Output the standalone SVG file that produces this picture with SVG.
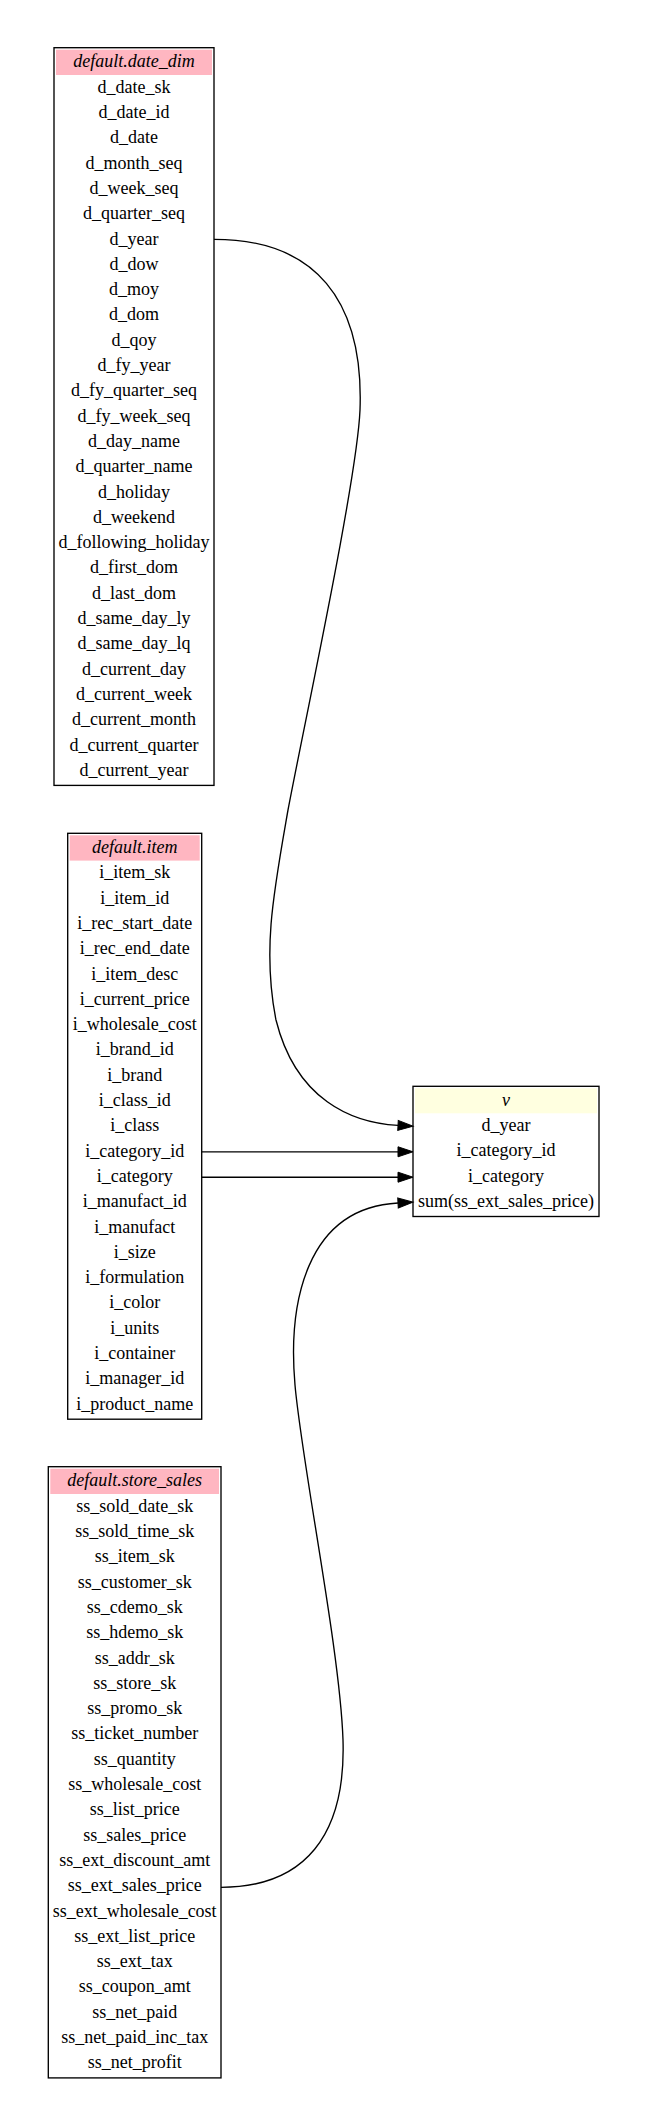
<svg xmlns="http://www.w3.org/2000/svg" width="647" height="2126" viewBox="0 0 647 2126">
<style>
.box{fill:#ffffff;stroke:#000000;stroke-width:1.35}
.hdr{stroke:none}
.src{fill:#ffb6c1}
.res{fill:#ffffe0}
text{font-family:"Liberation Serif","Times New Roman",serif;font-size:18px;fill:#000000;text-anchor:middle}
.ttl{font-style:italic}
.edge{fill:none;stroke:#000000;stroke-width:1.35}
</style>
<defs>
<marker id="arr" markerUnits="userSpaceOnUse" markerWidth="16" markerHeight="11" refX="0" refY="5" orient="auto" overflow="visible">
<path d="M0,0 L15,5 L0,10 z" fill="#000000" stroke="#000000" stroke-width="1"/>
</marker>
</defs>
<rect width="647" height="2126" fill="#ffffff"/>
<g id="date_dim">
<rect class="box" x="54" y="47.7" width="160" height="737.7"/>
<rect class="hdr src" x="56" y="49.7" width="156" height="25.3"/>
<text class="ttl" x="134" y="67">default.date_dim</text>
<text x="134" y="92.7">d_date_sk</text>
<text x="134" y="118">d_date_id</text>
<text x="134" y="143.3">d_date</text>
<text x="134" y="168.6">d_month_seq</text>
<text x="134" y="193.9">d_week_seq</text>
<text x="134" y="219.2">d_quarter_seq</text>
<text x="134" y="244.5">d_year</text>
<text x="134" y="269.8">d_dow</text>
<text x="134" y="295.1">d_moy</text>
<text x="134" y="320.4">d_dom</text>
<text x="134" y="345.7">d_qoy</text>
<text x="134" y="371">d_fy_year</text>
<text x="134" y="396.3">d_fy_quarter_seq</text>
<text x="134" y="421.6">d_fy_week_seq</text>
<text x="134" y="446.9">d_day_name</text>
<text x="134" y="472.2">d_quarter_name</text>
<text x="134" y="497.5">d_holiday</text>
<text x="134" y="522.8">d_weekend</text>
<text x="134" y="548.1">d_following_holiday</text>
<text x="134" y="573.4">d_first_dom</text>
<text x="134" y="598.7">d_last_dom</text>
<text x="134" y="624">d_same_day_ly</text>
<text x="134" y="649.3">d_same_day_lq</text>
<text x="134" y="674.6">d_current_day</text>
<text x="134" y="699.9">d_current_week</text>
<text x="134" y="725.2">d_current_month</text>
<text x="134" y="750.5">d_current_quarter</text>
<text x="134" y="775.8">d_current_year</text>
</g>
<g id="item">
<rect class="box" x="67.7" y="833.3" width="134" height="585.9"/>
<rect class="hdr src" x="69.7" y="835.3" width="130" height="25.3"/>
<text class="ttl" x="134.7" y="852.6">default.item</text>
<text x="134.7" y="878.3">i_item_sk</text>
<text x="134.7" y="903.6">i_item_id</text>
<text x="134.7" y="928.9">i_rec_start_date</text>
<text x="134.7" y="954.2">i_rec_end_date</text>
<text x="134.7" y="979.5">i_item_desc</text>
<text x="134.7" y="1004.8">i_current_price</text>
<text x="134.7" y="1030.1">i_wholesale_cost</text>
<text x="134.7" y="1055.4">i_brand_id</text>
<text x="134.7" y="1080.7">i_brand</text>
<text x="134.7" y="1106">i_class_id</text>
<text x="134.7" y="1131.3">i_class</text>
<text x="134.7" y="1156.6">i_category_id</text>
<text x="134.7" y="1181.9">i_category</text>
<text x="134.7" y="1207.2">i_manufact_id</text>
<text x="134.7" y="1232.5">i_manufact</text>
<text x="134.7" y="1257.8">i_size</text>
<text x="134.7" y="1283.1">i_formulation</text>
<text x="134.7" y="1308.4">i_color</text>
<text x="134.7" y="1333.7">i_units</text>
<text x="134.7" y="1359">i_container</text>
<text x="134.7" y="1384.3">i_manager_id</text>
<text x="134.7" y="1409.6">i_product_name</text>
</g>
<g id="store_sales">
<rect class="box" x="48.3" y="1466.7" width="172.7" height="611.2"/>
<rect class="hdr src" x="50.3" y="1468.7" width="168.7" height="25.3"/>
<text class="ttl" x="134.65" y="1486">default.store_sales</text>
<text x="134.65" y="1511.7">ss_sold_date_sk</text>
<text x="134.65" y="1537">ss_sold_time_sk</text>
<text x="134.65" y="1562.3">ss_item_sk</text>
<text x="134.65" y="1587.6">ss_customer_sk</text>
<text x="134.65" y="1612.9">ss_cdemo_sk</text>
<text x="134.65" y="1638.2">ss_hdemo_sk</text>
<text x="134.65" y="1663.5">ss_addr_sk</text>
<text x="134.65" y="1688.8">ss_store_sk</text>
<text x="134.65" y="1714.1">ss_promo_sk</text>
<text x="134.65" y="1739.4">ss_ticket_number</text>
<text x="134.65" y="1764.7">ss_quantity</text>
<text x="134.65" y="1790">ss_wholesale_cost</text>
<text x="134.65" y="1815.3">ss_list_price</text>
<text x="134.65" y="1840.6">ss_sales_price</text>
<text x="134.65" y="1865.9">ss_ext_discount_amt</text>
<text x="134.65" y="1891.2">ss_ext_sales_price</text>
<text x="134.65" y="1916.5">ss_ext_wholesale_cost</text>
<text x="134.65" y="1941.8">ss_ext_list_price</text>
<text x="134.65" y="1967.1">ss_ext_tax</text>
<text x="134.65" y="1992.4">ss_coupon_amt</text>
<text x="134.65" y="2017.7">ss_net_paid</text>
<text x="134.65" y="2043">ss_net_paid_inc_tax</text>
<text x="134.65" y="2068.3">ss_net_profit</text>
</g>
<g id="v">
<rect class="box" x="413" y="1086.3" width="186" height="130.2"/>
<rect class="hdr res" x="415" y="1088.3" width="182" height="25"/>
<text class="ttl" x="506" y="1106">v</text>
<text x="506" y="1131">d_year</text>
<text x="506" y="1156.3">i_category_id</text>
<text x="506" y="1181.6">i_category</text>
<text x="506" y="1206.9">sum(ss_ext_sales_price)</text>
</g>
<g id="connectors">
<path class="edge" marker-end="url(#arr)" d="M214,239.3 C315,239.3 364,300 360,410 C357,480 305,720 288,810 C274,890 262,950 276,1020 C296,1100 352,1123 398,1125.4"/>
<path class="edge" marker-end="url(#arr)" d="M201.7,1151.8 L398,1151.8"/>
<path class="edge" marker-end="url(#arr)" d="M201.7,1177.2 L398,1177.2"/>
<path class="edge" marker-end="url(#arr)" d="M221,1887.3 C305,1887.3 346,1835 343,1740 C340,1650 302,1465 295,1385 C288,1305 305,1208 398,1203"/>
</g>
</svg>
